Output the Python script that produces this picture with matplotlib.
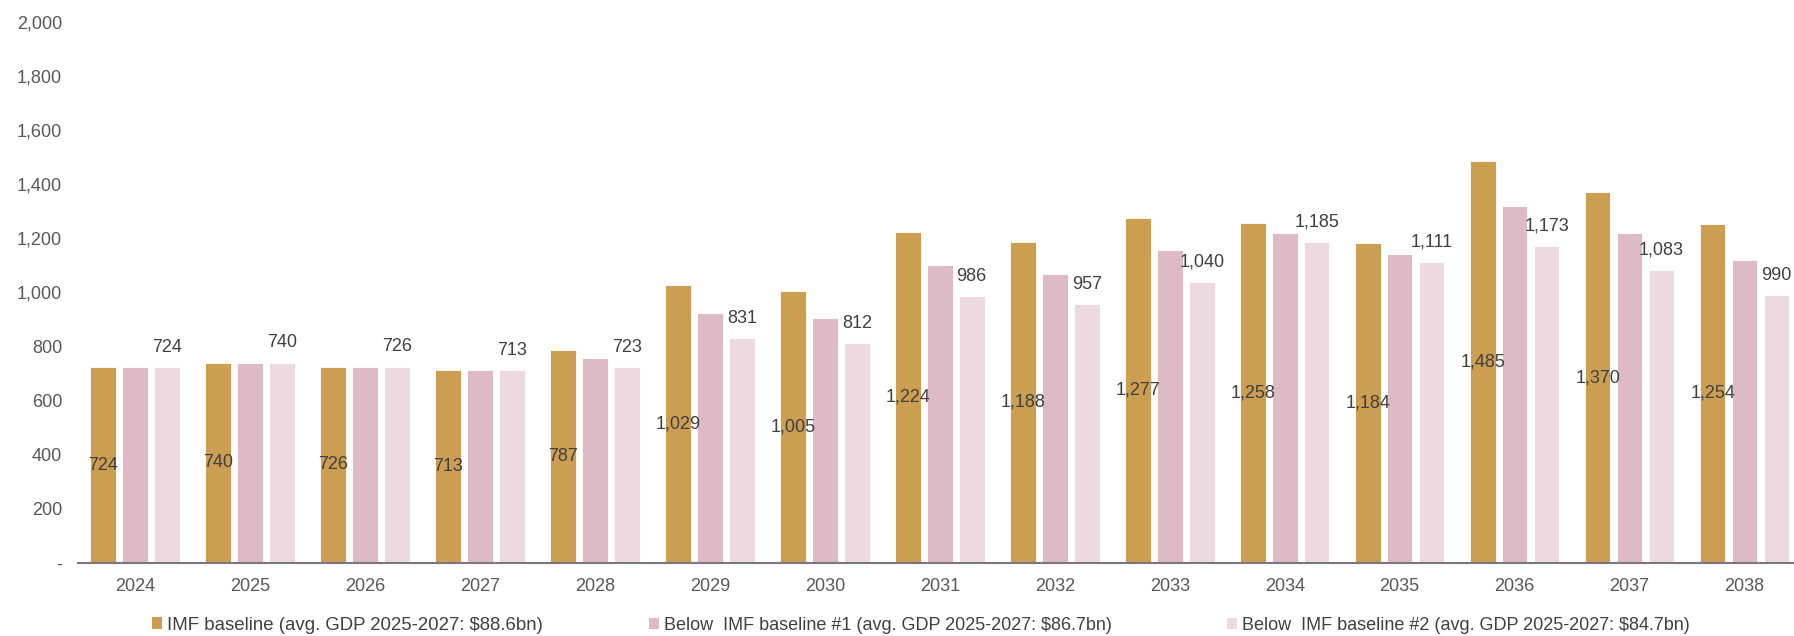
import matplotlib
matplotlib.use("Agg")
import matplotlib.pyplot as plt
from matplotlib.patches import Patch
from matplotlib.ticker import FuncFormatter
import numpy as np

# Chart data
years = ["2024", "2025", "2026", "2027", "2028", "2029", "2030", "2031",
         "2032", "2033", "2034", "2035", "2036", "2037", "2038"]
imf_baseline = [724, 740, 726, 713, 787, 1029, 1005, 1224,
                1188, 1277, 1258, 1184, 1485, 1370, 1254]
below_1 = [724, 740, 726, 713, 757, 925, 907, 1100,
           1069, 1157, 1220, 1143, 1320, 1220, 1120]
below_2 = [724, 740, 726, 713, 723, 831, 812, 986,
           957, 1040, 1185, 1111, 1173, 1083, 990]
series_names = [
    "IMF baseline (avg. GDP 2025-2027: $88.6bn)",
    "Below  IMF baseline #1 (avg. GDP 2025-2027: $86.7bn)",
    "Below  IMF baseline #2 (avg. GDP 2025-2027: $84.7bn)",
]

colors = ["#CC9E52", "#DDBAC6", "#EDD9E0"]
tick_color = "#595959"
label_color = "#404040"

plt.rcParams["font.family"] = ["Liberation Sans", "DejaVu Sans"]

fig = plt.figure(figsize=(17.94, 6.36), dpi=100)
ax = fig.add_axes([0.0432, 0.1148, 0.9613, 0.8506])

x = np.arange(len(years))
offset = 0.278
width = 0.223

bars_imf = ax.bar(x - offset, imf_baseline, width, color=colors[0], edgecolor="white", linewidth=0.6)
bars_b1 = ax.bar(x, below_1, width, color=colors[1], edgecolor="white", linewidth=0.6)
bars_b2 = ax.bar(x + offset, below_2, width, color=colors[2], edgecolor="white", linewidth=0.6)

# labels: IMF in middle of bar, series 2 above bar
for rect, v in zip(bars_imf, imf_baseline):
    ax.text(rect.get_x() + rect.get_width() / 2, v / 2, f"{v:,}",
            ha="center", va="center", fontsize=13, color=label_color)
for rect, v in zip(bars_b2, below_2):
    ax.annotate(f"{v:,}", (rect.get_x() + rect.get_width() / 2, v),
                xytext=(0, 14.4), textcoords="offset points",
                ha="center", va="center", fontsize=13, color=label_color)

ax.set_xlim(-0.5, len(years) - 0.5)
ax.set_ylim(0, 2000)
ax.set_yticks(np.arange(0, 2001, 200))
ax.yaxis.set_major_formatter(FuncFormatter(lambda v, p: "-" if v == 0 else f"{v:,.0f}"))
ax.set_xticks(x)
ax.set_xticklabels(years)
ax.tick_params(axis="both", length=0, labelsize=13, colors=tick_color)
ax.tick_params(axis="y", pad=11)
ax.tick_params(axis="x", pad=10.5)

for side in ["top", "right", "left"]:
    ax.spines[side].set_visible(False)
ax.spines["bottom"].set_color("#7B7481")
ax.spines["bottom"].set_linewidth(1.5)

# legend entries placed one by one
legend_x = [152 / 1794, 649 / 1794, 1227 / 1794]
legend_size = [13.4, 13, 13]
for name, c, lx, fs in zip(series_names, colors, legend_x, legend_size):
    fig.legend(handles=[Patch(facecolor=c, edgecolor="none")], labels=[name],
               loc="center left", bbox_to_anchor=(lx, 1 - 625 / 636),
               frameon=False, fontsize=fs, handlelength=0.56, handleheight=0.56,
               handletextpad=0.25, borderpad=0, borderaxespad=0,
               labelcolor=label_color)

fig.savefig("out.png", dpi=100)
